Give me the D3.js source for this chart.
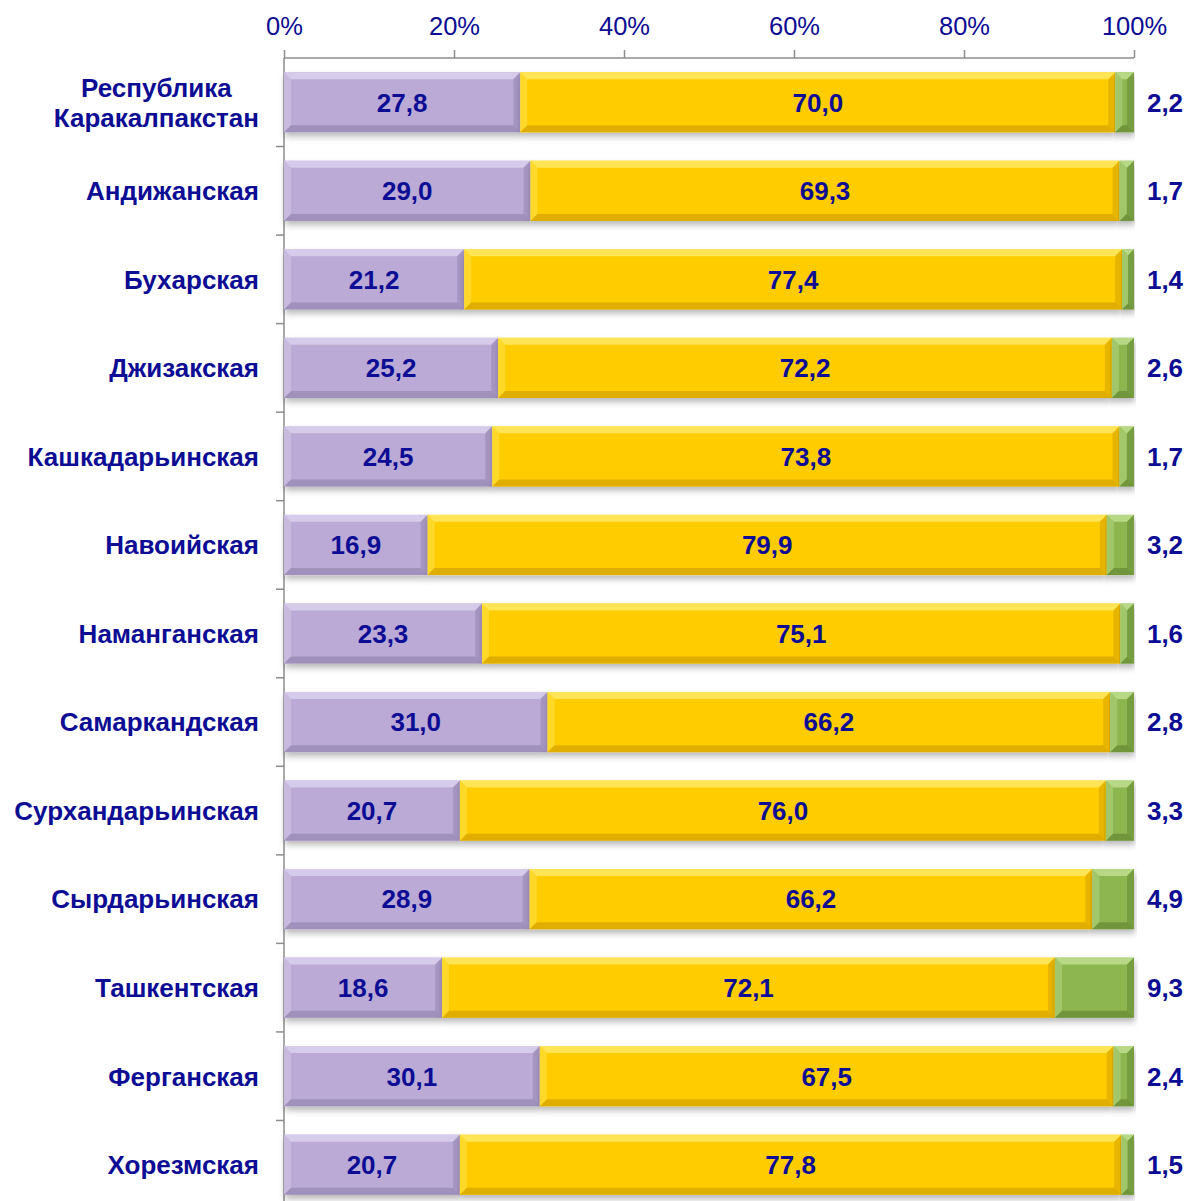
<!DOCTYPE html>
<html>
<head>
<meta charset="utf-8">
<script src="https://cdn.jsdelivr.net/npm/d3@7"></script>
<style>
  html, body { margin: 0; padding: 0; background: #fff; }
  svg { display: block; font-family: "Liberation Sans", Arial, sans-serif; }
</style>
</head>
<body>
<div id="chart"></div>
<script>
const regions = [
  "Республика\nКаракалпакстан", "Андижанская", "Бухарская", "Джизакская",
  "Кашкадарьинская", "Навоийская", "Наманганская", "Самаркандская",
  "Сурхандарьинская", "Сырдарьинская", "Ташкентская", "Ферганская", "Хорезмская"
];
const purpleValues = [27.8, 29.0, 21.2, 25.2, 24.5, 16.9, 23.3, 31.0, 20.7, 28.9, 18.6, 30.1, 20.7];
const yellowValues = [70.0, 69.3, 77.4, 72.2, 73.8, 79.9, 75.1, 66.2, 76.0, 66.2, 72.1, 67.5, 77.8];
const greenValues = [2.2, 1.7, 1.4, 2.6, 1.7, 3.2, 1.6, 2.8, 3.3, 4.9, 9.3, 2.4, 1.5];
const tickValues = [0, 20, 40, 60, 80, 100];

const width = 1190, height = 1201;
const margin = { top: 58, right: 56, bottom: -8, left: 284 };
const textColor = "#0c0c94";
const fmt = v => v.toFixed(1).replace(".", ",");

const series = [
  { key: "p", values: purpleValues, base: "#baaad5", light: "#e2d9f2", dark: "#8f7fab" },
  { key: "y", values: yellowValues, base: "#ffcc00", light: "#fff07a", dark: "#c99a00" },
  { key: "g", values: greenValues, base: "#8db651", light: "#c9e79a", dark: "#5b7f2b" }
];

const x = d3.scaleLinear().domain([0, 100]).range([margin.left, width - margin.right]);
const y = d3.scaleBand().domain(d3.range(regions.length))
  .range([margin.top, height - margin.bottom]).paddingInner(0.32).paddingOuter(0.16);

const svg = d3.select("#chart").append("svg")
  .attr("width", width).attr("height", height);

const defs = svg.append("defs");
defs.append("filter").attr("id", "shadow")
  .attr("x", "-5%").attr("y", "-20%").attr("width", "110%").attr("height", "150%")
  .append("feDropShadow")
  .attr("dx", 1).attr("dy", 4).attr("stdDeviation", 3)
  .attr("flood-color", "#000").attr("flood-opacity", 0.28);

// axis on top
const axis = svg.append("g").attr("transform", `translate(0,${margin.top})`)
  .call(d3.axisTop(x).tickValues(tickValues).tickFormat(d => d + "%").tickSize(8).tickPadding(15));
axis.select(".domain").attr("stroke", "#8c8c8c").attr("stroke-width", 1.5)
  .attr("d", `M${x(0)},0H${x(100)}`);
axis.selectAll(".tick line").attr("stroke", "#8c8c8c").attr("stroke-width", 1.5);
axis.selectAll(".tick text").attr("fill", textColor)
  .style("font-size", "25.5px").style("font-family", "'Liberation Sans', Arial, sans-serif");

// vertical category axis
const step = y.step();
svg.append("line")
  .attr("x1", x(0)).attr("x2", x(0))
  .attr("y1", margin.top).attr("y2", height)
  .attr("stroke", "#8c8c8c").attr("stroke-width", 1.5);
svg.append("g").selectAll("line")
  .data(d3.range(1, regions.length + 1))
  .join("line")
  .attr("x1", x(0) - 8).attr("x2", x(0))
  .attr("y1", i => y(0) - y.paddingOuter() * step + i * step)
  .attr("y2", i => y(0) - y.paddingOuter() * step + i * step)
  .attr("stroke", "#8c8c8c").attr("stroke-width", 1.5);

// build stacked segments
const segments = [];
regions.forEach((r, i) => {
  let acc = 0;
  series.forEach(s => {
    const v = s.values[i];
    segments.push({ i, s, v, x0: acc, x1: acc + v });
    acc += v;
  });
});

const bh = y.bandwidth();
const bevel = 7;

const seg = svg.append("g").selectAll("g")
  .data(segments)
  .join("g")
  .attr("transform", d => `translate(${x(d.x0)},${y(d.i)})`)
  .attr("filter", "url(#shadow)");

seg.append("rect")
  .attr("width", d => x(d.x1) - x(d.x0))
  .attr("height", bh)
  .attr("fill", d => d.s.base);

function bevelPaths(w, h) {
  const b = Math.min(bevel, w / 2, h / 2);
  return [
    { d: `M0,0H${w}L${w - b},${b}H${b}Z`, op: 0.7, light: true },
    { d: `M0,0L${b},${b}V${h - b}L0,${h}Z`, op: 0.35, light: true },
    { d: `M0,${h}L${b},${h - b}H${w - b}L${w},${h}Z`, op: 0.6, light: false },
    { d: `M${w},0V${h}L${w - b},${h - b}V${b}Z`, op: 0.45, light: false }
  ];
}

seg.each(function(d) {
  const w = x(d.x1) - x(d.x0);
  d3.select(this).selectAll("path")
    .data(bevelPaths(w, bh))
    .join("path")
    .attr("d", p => p.d)
    .attr("fill", p => p.light ? d.s.light : d.s.dark)
    .attr("opacity", p => p.op);
});

// value labels
const labelFont = "bold 26px 'Liberation Sans', Arial, sans-serif";
svg.append("g").selectAll("text")
  .data(segments)
  .join("text")
  .attr("x", d => d.s.key === "g" ? width - 25 : (x(d.x0) + x(d.x1)) / 2)
  .attr("y", d => y(d.i) + bh / 2)
  .attr("dy", "0.36em")
  .attr("text-anchor", "middle")
  .attr("fill", textColor)
  .style("font", labelFont)
  .text(d => fmt(d.v));

// category labels
const catG = svg.append("g");
regions.forEach((r, i) => {
  const lines = r.split("\n");
  const t = catG.append("text")
    .attr("fill", textColor)
    .style("font", labelFont)
    .attr("text-anchor", "middle");
  lines.forEach((ln, k) => {
    t.append("tspan").attr("x", 0)
      .attr("y", y(i) + bh / 2 + (k - (lines.length - 1) / 2) * 30)
      .attr("dy", "0.36em").text(ln);
  });
  const maxW = d3.max(t.selectAll("tspan").nodes(), n => n.getComputedTextLength());
  t.attr("transform", `translate(${x(0) - 25 - maxW / 2},0)`);
});
</script>
</body>
</html>
